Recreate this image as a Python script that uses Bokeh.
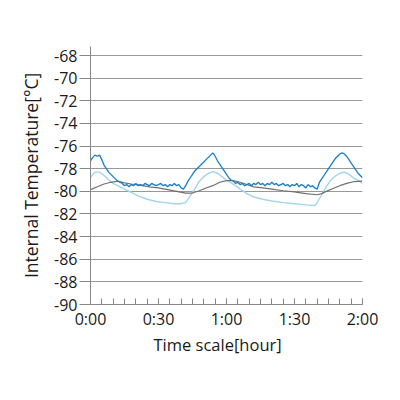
from bokeh.plotting import figure
from bokeh.models import Range1d, FixedTicker, Title
from bokeh.embed import file_html
from bokeh.resources import INLINE

# time in minutes
t_dark = list(range(0, 121))
v_dark = [-77.3, -77.0, -76.8, -76.9, -76.8, -77.2, -77.7, -78.0, -78.3, -78.5,
          -78.7, -78.9, -79.1, -79.2, -79.3, -79.5, -79.4, -79.6, -79.4, -79.5,
          -79.3, -79.5, -79.4, -79.5, -79.3, -79.4, -79.5, -79.3, -79.4, -79.5,
          -79.4, -79.3, -79.5, -79.4, -79.6, -79.4, -79.5, -79.3, -79.5, -79.4,
          -79.7, -79.8, -79.5, -79.1, -78.8, -78.5, -78.2, -78.0, -77.8, -77.6,
          -77.4, -77.2, -77.0, -76.8, -76.6, -76.9, -77.3, -77.6, -77.9, -78.2,
          -78.5, -78.8, -79.0, -79.1, -79.3, -79.2, -79.4, -79.3, -79.5, -79.4,
          -79.3, -79.5, -79.3, -79.4, -79.2, -79.4, -79.3, -79.5, -79.3, -79.4,
          -79.2, -79.4, -79.3, -79.5, -79.4, -79.3, -79.5, -79.4, -79.6, -79.4,
          -79.5, -79.3, -79.6, -79.4, -79.5, -79.7, -79.4, -79.6, -79.5, -79.7,
          -79.8, -79.2, -78.9, -78.6, -78.3, -78.0, -77.7, -77.4, -77.1, -76.9,
          -76.7, -76.6, -76.7, -76.9, -77.2, -77.5, -77.8, -78.1, -78.4, -78.6,
          -78.8]

t_light = [0, 1, 2, 4, 6, 8, 10, 12, 15, 18, 21, 25, 29, 33, 37, 40, 42, 44, 46, 48,
           50, 52, 54, 56, 58, 60, 62, 64, 66, 69, 72, 76, 80, 85, 90, 95, 99, 100,
           102, 104, 106, 108, 110, 112, 114, 116, 118, 120]
v_light = [-78.8, -78.5, -78.3, -78.3, -78.6, -79.0, -79.3, -79.5, -79.8, -80.1,
           -80.4, -80.7, -80.9, -81.0, -81.1, -81.1, -81.0, -80.4, -79.8, -79.1,
           -78.7, -78.4, -78.25, -78.4, -78.7, -79.0, -79.25, -79.5, -79.8, -80.2,
           -80.5, -80.7, -80.85, -81.0, -81.1, -81.2, -81.25, -81.0, -80.3, -79.6,
           -79.0, -78.65, -78.4, -78.3, -78.5, -78.8, -79.0, -79.3]

t_gray = [0, 3, 6, 9, 12, 15, 18, 22, 26, 30, 34, 38, 42, 45, 48, 51, 54, 57, 60,
          63, 66, 69, 72, 76, 80, 85, 90, 95, 100, 102, 104, 107, 110, 113, 116, 120]
v_gray = [-79.85, -79.6, -79.35, -79.2, -79.1, -79.25, -79.35, -79.45, -79.6, -79.7,
          -79.85, -80.0, -80.15, -80.15, -79.95, -79.7, -79.5, -79.2, -79.05, -79.05,
          -79.2, -79.4, -79.6, -79.7, -79.8, -79.95, -80.05, -80.2, -80.3, -80.2,
          -80.0, -79.75, -79.5, -79.3, -79.15, -79.1]

x_ticks = [0, 30, 60, 90, 120]
x_tick_labels = ["0:00", "0:30", "1:00", "1:30", "2:00"]
x_minor = list(range(0, 121, 5))
y_ticks = list(range(-90, -67, 2))

FONT = "Open Sans"
TXT = "#1a1a1a"

p = figure(width=384, height=384, output_backend="svg", toolbar_location=None,
           x_range=Range1d(0, 120), y_range=Range1d(-90, -67.2),
           min_border_left=90, min_border_right=22, min_border_top=46,
           min_border_bottom=80)
p.outline_line_color = None
p.background_fill_color = "white"

p.xaxis.ticker = FixedTicker(ticks=x_ticks, minor_ticks=x_minor)
p.xaxis.major_label_overrides = {t: l for t, l in zip(x_ticks, x_tick_labels)}
p.yaxis.ticker = FixedTicker(ticks=y_ticks)
p.yaxis.major_label_overrides = {v: str(v) for v in y_ticks}

for ax in (p.xaxis, p.yaxis):
    ax.axis_line_color = "#888888"
    ax.axis_line_width = 1
    ax.major_tick_line_color = "#888888"
    ax.minor_tick_line_color = "#888888"
    ax.major_label_text_font = FONT
    ax.major_label_text_font_size = "16px"
    ax.major_label_text_color = TXT
    ax.axis_label_text_font = FONT
    ax.axis_label_text_font_size = "17.5px"
    ax.axis_label_text_font_style = "normal"
    ax.axis_label_text_color = TXT

p.xaxis.major_tick_in = 6
p.xaxis.major_tick_out = 0
p.xaxis.minor_tick_in = 6
p.xaxis.minor_tick_out = 0
p.xaxis.major_label_standoff = 3

p.yaxis.major_tick_in = 0
p.yaxis.major_tick_out = 11
p.yaxis.minor_tick_line_color = None
p.yaxis.major_label_standoff = 2
p.yaxis.axis_label = "Internal Temperature[\u00b0C]"
p.yaxis.axis_label_standoff = 8

xlabel = Title(text="Time scale[hour]", align="left", offset=63,
               text_font=FONT, text_font_size="16.5px", text_font_style="normal",
               text_color=TXT)
try:
    xlabel.standoff = -4
except Exception:
    xlabel.standoff = 0
p.add_layout(xlabel, "below")

p.xgrid.grid_line_color = None
p.ygrid.grid_line_color = "#999999"
p.ygrid.grid_line_width = 1

p.line(t_light, v_light, line_color="#a3d4ee", line_width=1.4)
p.line(t_gray, v_gray, line_color="#707070", line_width=1.2)
p.line(t_dark, v_dark, line_color="#1a7ec3", line_width=1.3)

open("out.html", "w").write(file_html(p, INLINE))
